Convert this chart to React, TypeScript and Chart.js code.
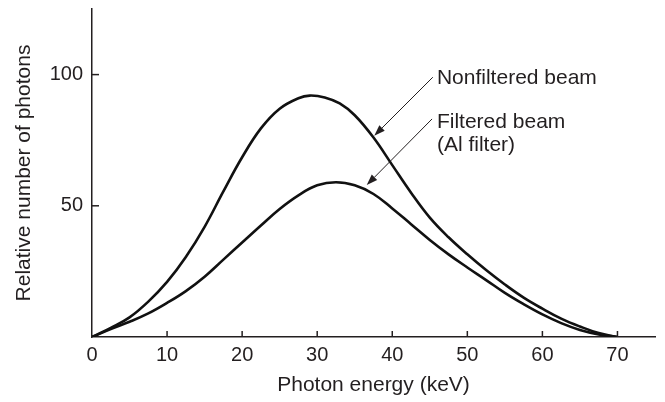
import React, { useEffect, useRef } from 'react';
import { Chart, registerables } from 'chart.js';

Chart.register(...registerables);

// Nonfiltered beam spectrum
const nonfilteredEnergy = [0, 2.5, 5, 7.5, 10, 12.5, 15, 17.5, 20, 22.5, 25, 27.5, 29, 31, 33, 35, 37.5, 40, 42.5, 45, 47.5, 50, 52.5, 55, 57.5, 60, 62.5, 65, 67.5, 70];
const nonfilteredPhotons = [0, 3.5, 7.5, 13.5, 21, 30.5, 42, 55.5, 68.5, 79.5, 87, 91, 92, 91.3, 89, 84.5, 76, 65.5, 55, 45.5, 38, 31.5, 25.5, 20, 15, 10.8, 7, 4, 1.5, 0];

// Filtered beam (Al filter) spectrum
const filteredEnergy = [0, 2.5, 5, 7.5, 10, 12.5, 15, 17.5, 20, 22.5, 25, 27.5, 30, 32.5, 35, 37.5, 40, 42.5, 45, 47.5, 50, 52.5, 55, 57.5, 60, 62.5, 65, 67.5, 70];
const filteredPhotons = [0, 3, 5.8, 9, 13, 17.5, 23, 29.5, 36, 42.5, 48.8, 54, 57.8, 59, 57.8, 54.5, 49, 43, 37, 31.5, 26.5, 21.7, 16.8, 12.5, 8.6, 5.3, 2.7, 1, 0];

// Axis ticks
const xTickValues = [0, 10, 20, 30, 40, 50, 60, 70];
const yTickValues = [50, 100];

// Annotation labels (data coordinates)
const labelTexts = ['Nonfiltered beam', 'Filtered beam', '(Al filter)'];
const labelX = [45.95, 45.95, 45.95];
const labelY = [98.5, 81.9, 73.1];

// Arrows (data coordinates): from label toward curve
const arrowFromX = [45.4, 45.3];
const arrowFromY = [99.0, 83.1];
const arrowToX = [37.6, 36.6];
const arrowToY = [76.7, 57.9];

const FONT = '"Liberation Sans", Arial, Helvetica, sans-serif';
const INK = '#231f20';

const decorPlugin = {
  id: 'decor',
  afterDraw(chart: any) {
    const ctx = chart.ctx as CanvasRenderingContext2D;
    const xs = chart.scales.x;
    const ys = chart.scales.y;
    ctx.save();
    // inward tick marks
    ctx.strokeStyle = INK;
    ctx.lineWidth = 1.5;
    xTickValues.forEach((v) => {
      if (v === 0) return;
      const px = xs.getPixelForValue(v);
      ctx.beginPath();
      ctx.moveTo(px, ys.bottom);
      ctx.lineTo(px, ys.bottom - 6);
      ctx.stroke();
    });
    yTickValues.forEach((v) => {
      const py = ys.getPixelForValue(v);
      ctx.beginPath();
      ctx.moveTo(xs.left, py);
      ctx.lineTo(xs.left + 7, py);
      ctx.stroke();
    });
    // arrows
    ctx.lineWidth = 1;
    ctx.fillStyle = INK;
    for (let i = 0; i < arrowFromX.length; i++) {
      const x1 = xs.getPixelForValue(arrowFromX[i]);
      const y1 = ys.getPixelForValue(arrowFromY[i]);
      const x2 = xs.getPixelForValue(arrowToX[i]);
      const y2 = ys.getPixelForValue(arrowToY[i]);
      const ang = Math.atan2(y2 - y1, x2 - x1);
      const headLen = 11;
      const headHalf = 3.8;
      const bx = x2 - headLen * Math.cos(ang);
      const by = y2 - headLen * Math.sin(ang);
      ctx.beginPath();
      ctx.moveTo(x1, y1);
      ctx.lineTo(bx, by);
      ctx.stroke();
      ctx.beginPath();
      ctx.moveTo(x2, y2);
      ctx.lineTo(bx + headHalf * Math.sin(ang), by - headHalf * Math.cos(ang));
      ctx.lineTo(bx - headHalf * Math.sin(ang), by + headHalf * Math.cos(ang));
      ctx.closePath();
      ctx.fill();
    }
    // labels
    ctx.font = `21px ${FONT}`;
    ctx.textAlign = 'left';
    ctx.textBaseline = 'middle';
    for (let i = 0; i < labelTexts.length; i++) {
      ctx.fillText(labelTexts[i], xs.getPixelForValue(labelX[i]), ys.getPixelForValue(labelY[i]));
    }
    ctx.restore();
  },
};

export default function App() {
  const ref = useRef<HTMLCanvasElement | null>(null);

  useEffect(() => {
    if (!ref.current) return;
    const chart = new Chart(ref.current, {
      type: 'line',
      data: {
        datasets: [
          {
            label: 'Nonfiltered beam',
            data: nonfilteredEnergy.map((x, i) => ({ x, y: nonfilteredPhotons[i] })),
            borderColor: '#111',
            borderWidth: 2.6,
            pointRadius: 0,
            tension: 0.4,
            fill: false,
          },
          {
            label: 'Filtered beam (Al filter)',
            data: filteredEnergy.map((x, i) => ({ x, y: filteredPhotons[i] })),
            borderColor: '#111',
            borderWidth: 2.6,
            pointRadius: 0,
            tension: 0.4,
            fill: false,
          },
        ],
      },
      options: {
        animation: false,
        responsive: false,
        devicePixelRatio: 1,
        layout: { padding: { top: 9, right: 10, left: 0, bottom: 0 } },
        plugins: { legend: { display: false }, tooltip: { enabled: false } },
        scales: {
          x: {
            type: 'linear',
            min: 0,
            max: 75,
            grid: { display: false, drawTicks: false },
            border: { display: true, color: INK, width: 1.5 },
            ticks: { padding: 6, color: INK, font: { family: FONT, size: 20 }, autoSkip: false, maxRotation: 0 },
            title: {
              display: true,
              text: 'Photon energy (keV)',
              color: INK,
              font: { family: FONT, size: 21 },
              padding: { top: 0, bottom: 4 },
            },
            afterBuildTicks: (s: any) => {
              s.ticks = xTickValues.map((v) => ({ value: v }));
            },
            afterFit: (s: any) => {
              s.height = 65;
              s.paddingLeft = 0;
              s.paddingRight = 0;
            },
          },
          y: {
            type: 'linear',
            min: 0,
            max: 125,
            grid: { display: false, drawTicks: false },
            border: { display: true, color: INK, width: 1.5 },
            ticks: { padding: 9, color: INK, font: { family: FONT, size: 20 } },
            title: {
              display: true,
              text: 'Relative number of photons',
              color: INK,
              font: { family: FONT, size: 21 },
              padding: { top: 12, bottom: 0 },
            },
            afterBuildTicks: (s: any) => {
              s.ticks = yTickValues.map((v) => ({ value: v }));
            },
            afterFit: (s: any) => {
              s.width = 92;
              s.paddingTop = 0;
              s.paddingBottom = 0;
            },
          },
        },
      },
      plugins: [decorPlugin],
    } as any);
    return () => chart.destroy();
  }, []);

  return (
    <div style={{ position: 'absolute', left: 0, top: 0, width: 665, height: 402, background: '#fff' }}>
      <canvas ref={ref} width={665} height={402} style={{ display: 'block' }} />
    </div>
  );
}
